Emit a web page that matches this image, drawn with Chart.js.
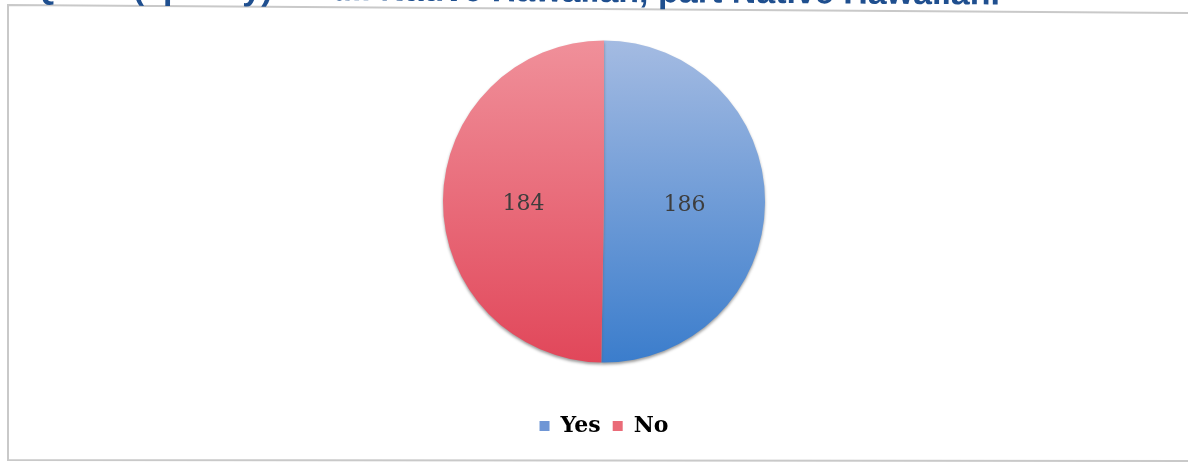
<!DOCTYPE html>
<html>
<head>
<meta charset="utf-8">
<script src="https://cdn.jsdelivr.net/npm/chart.js@4"></script>
<style>
  html, body { margin: 0; padding: 0; background: #ffffff; }
  #wrap { width: 1188px; height: 462px; position: relative; }
</style>
</head>
<body>
<div id="wrap"><canvas id="idCanvas" width="1188" height="462"></canvas></div>
<script>
// answers to the question
const labels = ['Yes', 'No'];
const counts = [186, 184];

// top/bottom shades used for each slice gradient
const topColors = ['#a4bbe2', '#f0909a'];
const bottomColors = ['#3b7dcc', '#e1475a'];
const legendColors = ['#6f96d5', '#ea6b78'];

const titleText = 'Q14a. (specify) \u2013 Full Native Hawaiian, part Native Hawaiian.';
const pieRadius = 161;

function sliceColor(c) {
    const chart = c.chart;
    const area = chart.chartArea;
    if (!area) return topColors[c.dataIndex];
    const cy = (area.top + area.bottom) / 2;
    const g = chart.ctx.createLinearGradient(0, cy - pieRadius, 0, cy + pieRadius);
    g.addColorStop(0, topColors[c.dataIndex]);
    g.addColorStop(1, bottomColors[c.dataIndex]);
    return g;
}

// frame around the chart and the clipped heading above it
const framePlugin = {
    id: 'frame',
    beforeDraw(chart) {
        const ctx = chart.ctx;
        ctx.save();
        ctx.fillStyle = '#ffffff';
        ctx.fillRect(0, 0, chart.width, chart.height);

        ctx.strokeStyle = '#c9c9c9';
        ctx.lineWidth = 2;
        ctx.beginPath();
        ctx.moveTo(1190, 13);
        ctx.lineTo(8, 5);
        ctx.lineTo(8, 460);
        ctx.lineTo(1190, 461);
        ctx.stroke();

        ctx.rotate(0.0065);
        ctx.fillStyle = '#1f4f8f';
        ctx.font = 'bold 34px "Liberation Sans", Arial, sans-serif';
        ctx.textAlign = 'right';
        ctx.textBaseline = 'alphabetic';
        ctx.fillText(titleText, 1000, -2);
        ctx.restore();
    }
};

// shadow under the pie
const shadowPlugin = {
    id: 'pieShadow',
    beforeDatasetsDraw(chart) {
        const ctx = chart.ctx;
        ctx.save();
        ctx.shadowColor = 'rgba(90, 90, 90, 0.6)';
        ctx.shadowBlur = 3;
        ctx.shadowOffsetY = 2;
    },
    afterDatasetsDraw(chart) {
        chart.ctx.restore();
    }
};

// value labels in the middle of every slice
const valuePlugin = {
    id: 'values',
    afterDatasetsDraw(chart) {
        const ctx = chart.ctx;
        const meta = chart.getDatasetMeta(0);
        ctx.save();
        ctx.fillStyle = '#3d3d3d';
        ctx.font = '22px "DejaVu Serif", serif';
        ctx.textAlign = 'center';
        ctx.textBaseline = 'middle';
        meta.data.forEach((arc, i) => {
            const p = arc.tooltipPosition();
            ctx.fillText(String(counts[i]), p.x, p.y + 3);
        });
        ctx.restore();
    }
};

new Chart(document.getElementById('idCanvas').getContext('2d'), {
    type: 'pie',
    data: {
        labels: labels,
        datasets: [{
            data: counts,
            backgroundColor: sliceColor,
            borderWidth: 0,
            radius: pieRadius
        }]
    },
    options: {
        responsive: false,
        animation: false,
        layout: { padding: { left: 20, right: 0, top: 0, bottom: 15 } },
        plugins: {
            legend: {
                position: 'bottom',
                labels: {
                    boxWidth: 10,
                    boxHeight: 10,
                    padding: 12,
                    color: '#1a1a1a',
                    font: { family: '"DejaVu Serif", serif', size: 22, weight: 'bold' },
                    generateLabels(chart) {
                        return labels.map((l, i) => ({
                            text: l,
                            fillStyle: legendColors[i],
                            strokeStyle: 'rgba(0,0,0,0)',
                            lineWidth: 0,
                            index: i,
                            datasetIndex: 0
                        }));
                    }
                }
            },
            tooltip: { enabled: false }
        }
    },
    plugins: [framePlugin, shadowPlugin, valuePlugin]
});
</script>
</body>
</html>
